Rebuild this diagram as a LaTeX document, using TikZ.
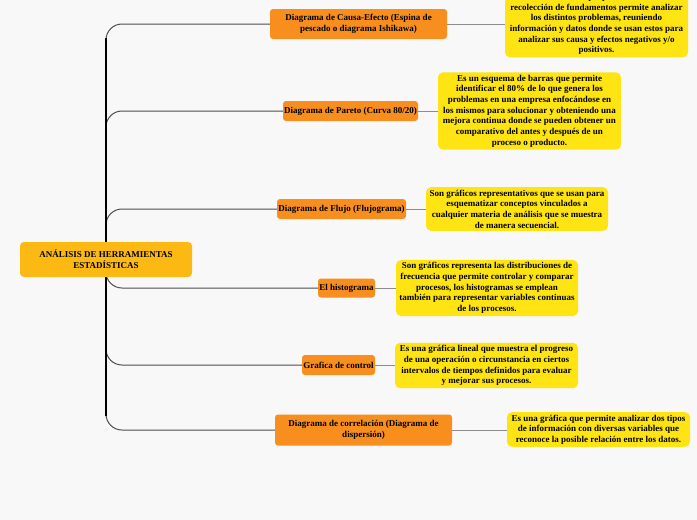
\documentclass[tikz,border=0pt]{standalone}
\usepackage{fontspec}
\setmainfont{Liberation Serif}
\definecolor{bg}{RGB}{248,248,248}
\definecolor{ybox}{RGB}{255,228,20}
\definecolor{obox}{RGB}{247,142,30}
\definecolor{rbox}{RGB}{253,185,19}
\definecolor{lgray}{RGB}{140,140,140}
\pgfdeclarelayer{back}
\pgfdeclarelayer{lines}
\pgfsetlayers{back,lines,main}
\tikzset{
  txt/.style={font=\bfseries\fontsize{9}{10.7}\selectfont, text=black},
  desc/.style={txt, fill=ybox, rounded corners=5pt, align=center, inner xsep=2pt, inner ysep=2.5pt},
  topic/.style={txt, fill=obox, rounded corners=3pt, align=center, inner xsep=1pt, inner ysep=2pt},
  rootbox/.style={txt, fill=rbox, rounded corners=4pt, align=center, minimum width=172pt, minimum height=35pt},
  branch/.style={draw=black!70, line width=1pt, rounded corners=16pt},
  trunk/.style={draw=black, line width=2.4pt},
  link/.style={draw=lgray, line width=0.8pt}
}
\begin{document}
\begin{tikzpicture}[x=1pt,y=-1pt]
\useasboundingbox (0,0) rectangle (697,520);
\begin{pgfonlayer}{back}
\fill[bg] (0,0) rectangle (697,520);
\end{pgfonlayer}
\clip (0,0) rectangle (697,520);

\node[rootbox] (root) at (106,259.5) {ANÁLISIS DE HERRAMIENTAS\\ESTADÍSTICAS};
\coordinate (t) at (106,259.5);

\node[topic, minimum width=177pt, minimum height=30pt] (o1) at (358.5,24) {Diagrama de Causa-Efecto (Espina de\\pescado o diagrama Ishikawa)};
\node[topic, minimum width=135pt, minimum height=20pt] (o2) at (350.5,111) {Diagrama de Pareto (Curva 80/20)};
\node[topic, minimum width=129pt, minimum height=20pt] (o3) at (341.5,209) {Diagrama de Flujo (Flujograma)};
\node[topic, minimum width=57pt, minimum height=19pt] (o4) at (346.5,288) {El histograma};
\node[topic, minimum width=73pt, minimum height=20pt] (o5) at (338.5,365) {Grafica de control};
\node[topic, minimum width=177pt, minimum height=31pt] (o6) at (363.5,430) {Diagrama de correlación (Diagrama de\\dispersión)};

\node[desc, minimum width=183pt] (y1) at (596.5,24) {Es un método que por medio de la\\recolección de fundamentos permite analizar\\los distintos problemas, reuniendo\\información y datos donde se usan estos para\\analizar sus causa y efectos negativos y/o\\positivos.};
\node[desc, minimum width=183pt] (y2) at (529.5,111) {Es un esquema de barras que permite\\identificar el 80\% de lo que genera los\\problemas en una empresa enfocándose en\\los mismos para solucionar y obteniendo una\\mejora continua donde se pueden obtener un\\comparativo del antes y después de un\\proceso o producto.};
\node[desc, minimum width=182pt] (y3) at (517,209) {Son gráficos representativos que se usan para\\esquematizar conceptos vinculados a\\cualquier materia de análisis que se muestra\\de manera secuencial.};
\node[desc, minimum width=182pt] (y4) at (487,288) {Son gráficos representa las distribuciones de\\frecuencia que permite controlar y comparar\\procesos, los histogramas se emplean\\también para representar variables continuas\\de los procesos.};
\node[desc, minimum width=183pt] (y5) at (486.5,365.5) {Es una gráfica lineal que muestra el progreso\\de una operación o circunstancia en ciertos\\intervalos de tiempos definidos para evaluar\\y mejorar sus procesos.};
\node[desc, minimum width=183pt] (y6) at (598.5,429.5) {Es una gráfica que permite analizar dos tipos\\de información con diversas variables que\\reconoce la posible relación entre los datos.};

\begin{pgfonlayer}{lines}
\foreach \i in {1,...,6} {
  \draw[branch] (t) |- (o\i.west);
  \draw[link] (o\i.east) -- (o\i.east -| y\i.west);
}
\draw[trunk] (106,38) -- (106,416);
\end{pgfonlayer}
\end{tikzpicture}
\end{document}
